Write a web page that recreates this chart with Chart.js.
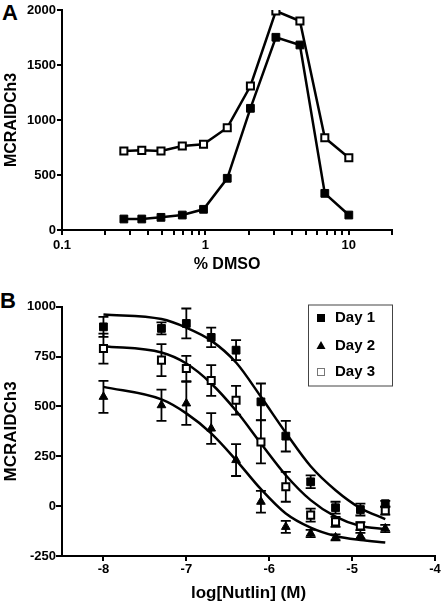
<!DOCTYPE html>
<html>
<head>
<meta charset="utf-8">
<script src="https://cdn.jsdelivr.net/npm/chart.js@4"></script>
<style>
  body { margin: 0; background: #fff; width: 442px; height: 606px; position: relative; overflow: hidden;
         font-family: "Liberation Sans", Arial, sans-serif; }
  .panel { position: absolute; font-weight: bold; font-size: 22px; line-height: 22px; }
  canvas { position: absolute; left: 0; }
</style>
</head>
<body>
<div class="panel" style="left:2px;top:2px">A</div>
<div class="panel" style="left:0px;top:290px">B</div>
<canvas id="dmso" width="442" height="280" style="top:0"></canvas>
<canvas id="nutlin" width="442" height="326" style="top:280px"></canvas>
<script>
// panel A
const dmsoPct = [0.27, 0.36, 0.49, 0.69, 0.97, 1.42, 2.06, 3.1, 4.56, 6.8, 10];
const filledA = [100, 100, 115, 136, 188, 470, 1106, 1752, 1682, 333, 136];
const openA = [718, 724, 718, 764, 779, 930, 1309, 1991, 1900, 839, 657];
const dmsoTicks = [0.1, 0.2, 0.3, 0.4, 0.5, 0.6, 0.7, 0.8, 0.9, 1, 2, 3, 4, 5, 6, 7, 8, 9, 10, 20];
const dmsoLabels = [0.1, 1, 10];

// panel B
const logNutlin = [-8, -7.3, -7, -6.7, -6.4, -6.1, -5.8, -5.5, -5.2, -4.9, -4.6];
const day1 = [899, 891, 916, 846, 782, 523, 351, 122, -8, -17, 12];
const day1Err = [50, 30, 75, 49, 50, 92, 77, 32, 30, 30, 14];
const day2 = [548, 506, 515, 389, 231, 22, -104, -137, -157, -149, -112];
const day2Err = [80, 78, 108, 77, 80, 55, 30, 18, 15, 15, 18];
const day3 = [790, 732, 690, 630, 531, 322, 97, -45, -79, -100, -23];
const day3Err = [75, 80, 63, 77, 72, 108, 75, 33, 25, 20, 20];
// fitted curves
const day1Fit = [961, 938, 895, 830, 720, 548, 368, 200, 80, -10, -65];
const day2Fit = [598, 535, 465, 365, 231, 85, -37, -108, -150, -170, -182];
const day3Fit = [802, 770, 715, 615, 478, 314, 155, 30, -53, -100, -115];
const nutlinTicks = [-8, -7, -6, -5, -4];

const FONT = '"Liberation Sans", Arial, sans-serif';
Chart.defaults.font.family = FONT;
Chart.defaults.font.weight = 'bold';
Chart.defaults.color = '#000';

const pts = (xs, ys) => xs.map((x, i) => ({ x: x, y: ys[i] }));

function axisBase(tickLen, pad) {
  return {
    border: { color: '#000', width: 2 },
    grid: { drawOnChartArea: false, color: '#000', lineWidth: 2, tickLength: tickLen },
    ticks: { color: '#000', font: { size: 13, weight: 'bold' }, padding: pad, autoSkip: false, maxRotation: 0,
             callback: v => String(v) }
  };
}

// ---------- A ----------
const ax = axisBase(5, 3), ay = axisBase(5, 1);
new Chart(document.getElementById('dmso'), {
  type: 'scatter',
  data: {
    datasets: [
      { data: pts(dmsoPct, filledA), showLine: true, borderColor: '#000', borderWidth: 2.5,
        pointStyle: 'rect', pointRadius: 5.5, pointBackgroundColor: '#000', pointBorderColor: '#000', pointBorderWidth: 1 },
      { data: pts(dmsoPct, openA), showLine: true, borderColor: '#000', borderWidth: 2.5,
        pointStyle: 'rect', pointRadius: 5, pointBackgroundColor: '#fff', pointBorderColor: '#000', pointBorderWidth: 2 }
    ]
  },
  options: {
    responsive: false, animation: false,
    layout: { padding: { top: 10, right: 50, left: 0, bottom: 0 } },
    plugins: { legend: { display: false }, tooltip: { enabled: false } },
    scales: {
      x: Object.assign(ax, {
        type: 'logarithmic', min: 0.1, max: 20,
        afterBuildTicks: s => { s.ticks = dmsoTicks.map(v => ({ value: v })); },
        afterFit: s => { s.height = 50; s.paddingLeft = 0; s.paddingRight = 0; },
        title: { display: true, text: '% DMSO', font: { size: 16, weight: 'bold' }, padding: { top: 0, bottom: 6 } },
        ticks: Object.assign(ax.ticks, { callback: v => dmsoLabels.includes(v) ? String(v) : '' })
      }),
      y: Object.assign(ay, {
        min: 0, max: 2000,
        afterFit: s => { s.width = 62; s.paddingTop = 0; s.paddingBottom = 0; },
        title: { display: true, text: 'MCRAIDCh3', font: { size: 16, weight: 'bold' }, padding: { top: 2, bottom: 0 } },
        ticks: Object.assign(ay.ticks, { stepSize: 500 })
      })
    }
  }
});

// ---------- B ----------
const errorBars = {
  id: 'errorBars',
  beforeDatasetsDraw(chart) {
    const { ctx, scales: { x, y } } = chart;
    chart.data.datasets.forEach(ds => {
      if (!ds.errors) return;
      ctx.save();
      ctx.strokeStyle = '#000';
      ctx.lineWidth = 1.8;
      ds.data.forEach((p, j) => {
        const px = x.getPixelForValue(p.x);
        const top = y.getPixelForValue(p.y + ds.errors[j]);
        const bot = y.getPixelForValue(p.y - ds.errors[j]);
        ctx.beginPath();
        ctx.moveTo(px, top); ctx.lineTo(px, bot);
        ctx.moveTo(px - 5, top); ctx.lineTo(px + 5, top);
        ctx.moveTo(px - 5, bot); ctx.lineTo(px + 5, bot);
        ctx.stroke();
      });
      ctx.restore();
    });
  }
};

const boxLegend = {
  id: 'boxLegend',
  afterDraw(chart) {
    const ctx = chart.ctx;
    const left = 308.5, top = 25, w = 84, h = 81;
    ctx.save();
    ctx.strokeStyle = '#444';
    ctx.lineWidth = 1;
    ctx.strokeRect(left, top, w, h);
    ctx.font = 'bold 15px ' + FONT;
    ctx.textBaseline = 'middle';
    ctx.fillStyle = '#000';
    const rows = [38, 65.5, 92];
    chart.data.datasets.slice(0, 3).forEach((ds, i) => {
      const cy = rows[i], cx = 321;
      ctx.beginPath();
      if (ds.pointStyle === 'triangle') {
        ctx.moveTo(cx, cy - 4.5); ctx.lineTo(cx + 4.5, cy + 3.5); ctx.lineTo(cx - 4.5, cy + 3.5); ctx.closePath();
        ctx.fillStyle = '#000'; ctx.fill();
      } else if (ds.pointBackgroundColor === '#fff') {
        ctx.strokeStyle = '#777'; ctx.lineWidth = 1;
        ctx.strokeRect(cx - 3.5, cy - 3.5, 7, 7);
      } else {
        ctx.fillStyle = '#000'; ctx.fillRect(cx - 4, cy - 4, 8, 8);
      }
      ctx.fillStyle = '#000';
      ctx.fillText(ds.label, 335, cy);
    });
    ctx.restore();
  }
};

const bx = axisBase(5, 1), by = axisBase(6, 0);
const fitStyle = { showLine: true, borderColor: '#000', borderWidth: 2.5, pointRadius: 0,
                   cubicInterpolationMode: 'monotone', fill: false };
new Chart(document.getElementById('nutlin'), {
  type: 'scatter',
  data: {
    datasets: [
      { label: 'Day 1', data: pts(logNutlin, day1), errors: day1Err, pointStyle: 'rect', pointRadius: 5.5,
        pointBackgroundColor: '#000', pointBorderColor: '#000', pointBorderWidth: 1 },
      { label: 'Day 2', data: pts(logNutlin, day2), errors: day2Err, pointStyle: 'triangle', pointRadius: 5,
        pointBackgroundColor: '#000', pointBorderColor: '#000', pointBorderWidth: 1 },
      { label: 'Day 3', data: pts(logNutlin, day3), errors: day3Err, pointStyle: 'rect', pointRadius: 5,
        pointBackgroundColor: '#fff', pointBorderColor: '#000', pointBorderWidth: 2 },
      Object.assign({ data: pts(logNutlin, day1Fit) }, fitStyle),
      Object.assign({ data: pts(logNutlin, day2Fit) }, fitStyle),
      Object.assign({ data: pts(logNutlin, day3Fit) }, fitStyle)
    ]
  },
  plugins: [errorBars, boxLegend],
  options: {
    responsive: false, animation: false,
    layout: { padding: { top: 26.7, right: 6.7, left: 0, bottom: 0 } },
    plugins: { legend: { display: false }, tooltip: { enabled: false } },
    scales: {
      x: Object.assign(bx, {
        min: -8.5, max: -4,
        afterBuildTicks: s => { s.ticks = nutlinTicks.map(v => ({ value: v })); },
        afterFit: s => { s.height = 50; s.paddingLeft = 0; s.paddingRight = 0; },
        title: { display: true, text: 'log[Nutlin] (M)', font: { size: 17, weight: 'bold' }, padding: { top: 0, bottom: 2 } }
      }),
      y: Object.assign(by, {
        min: -250, max: 1000,
        afterFit: s => { s.width = 62; s.paddingTop = 0; s.paddingBottom = 0; },
        title: { display: true, text: 'MCRAIDCh3', font: { size: 17, weight: 'bold' }, padding: { top: 1, bottom: 0 } },
        ticks: Object.assign(by.ticks, { stepSize: 250 })
      })
    }
  }
});
</script>
</body>
</html>
